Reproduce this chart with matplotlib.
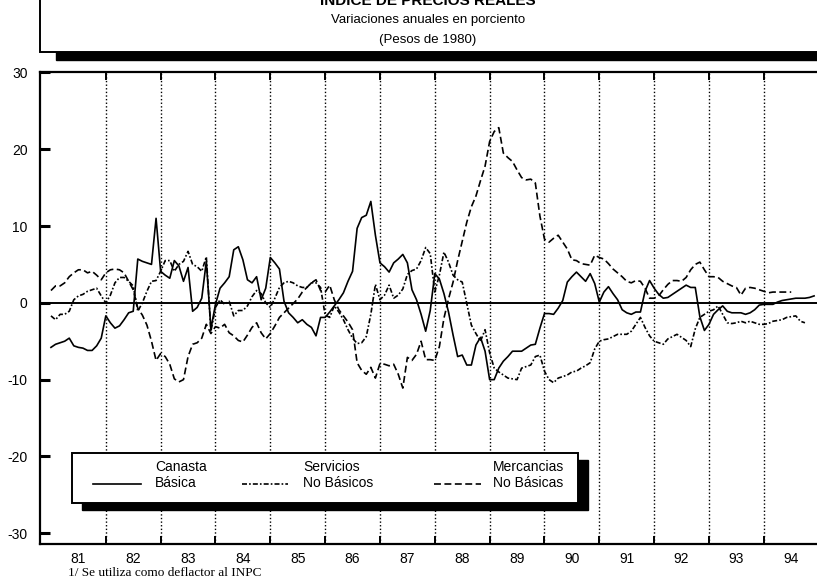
import numpy as np
import matplotlib.pyplot as plt
from matplotlib.patches import Rectangle
from matplotlib.lines import Line2D

plt.rcParams['font.family'] = ['Liberation Sans', 'DejaVu Sans']
plt.rcParams['lines.scale_dashes'] = False

# ─── DATA (monthly, Jan 1981 onwards, % annual change) ─────
canasta = [
    -5.8, -5.4, -5.2, -5.0, -4.6, -5.6, -5.8, -5.9, -6.2, -6.2, -5.6, -4.6,
    -1.7, -2.6, -3.3, -3.0, -2.2, -1.3, -1.1, 5.7, 5.4, 5.2, 5.0, 11.0,
    4.1, 3.6, 3.2, 5.5, 4.8, 2.8, 4.6, -1.1, -0.6, 0.6, 5.4, -3.4,
    -0.2, 1.9, 2.6, 3.4, 6.9, 7.3, 5.6, 3.0, 2.6, 3.4, 0.4, 1.9,
    5.9, 5.2, 4.4, 0.2, -1.3, -1.9, -2.6, -2.2, -2.8, -3.2, -4.3, -1.9,
    -1.9, -1.2, -0.4, 0.4, 1.3, 2.8, 4.1, 9.7, 11.1, 11.4, 13.2, 8.8,
    5.2, 4.7, 4.0, 5.2, 5.7, 6.3, 5.2, 1.7, 0.4, -1.5, -3.7, -1.0,
    3.8, 3.1, 1.2, -1.2, -4.2, -7.0, -6.8, -8.1, -8.1, -5.5, -4.5, -6.3,
    -10.0, -10.0, -8.5, -7.6, -7.0, -6.3, -6.3, -6.3, -5.9, -5.5, -5.4, -3.3,
    -1.4, -1.4, -1.5, -0.7, 0.3, 2.7, 3.4, 4.0, 3.4, 2.8, 3.8, 2.5,
    0.1, 1.4, 2.1, 1.2, 0.4, -0.9, -1.3, -1.5, -1.2, -1.2, 1.5, 2.9,
    1.9, 1.1, 0.6, 0.7, 1.1, 1.5, 1.9, 2.3, 2.0, 2.0, -1.8, -3.6,
    -2.8, -1.5, -0.9, -0.4, -1.1, -1.3, -1.3, -1.3, -1.5, -1.3, -0.9, -0.3,
    -0.2, -0.2, -0.2, 0.1, 0.3, 0.4, 0.5, 0.6, 0.6, 0.6, 0.7, 0.9,
]

servicios = [
    -1.7, -2.2, -1.5, -1.5, -1.1, 0.4, 0.9, 1.1, 1.5, 1.7, 1.9, 0.9,
    0.0, 1.0, 2.6, 3.3, 3.3, 2.8, 2.2, -1.1, 0.0, 1.5, 2.8, 2.9,
    4.1, 5.5, 5.5, 4.1, 5.0, 5.4, 6.7, 5.0, 4.7, 4.1, 6.0, -3.7,
    -0.6, 0.4, -0.2, 0.2, -1.7, -1.0, -1.0, -0.4, 0.8, 1.6, 1.2, 0.0,
    -0.6, 0.6, 2.0, 2.6, 2.8, 2.6, 2.2, 2.0, 2.0, 2.6, 2.6, 2.0,
    -1.6, -1.9, -0.4, -1.2, -2.2, -3.5, -4.6, -5.3, -5.2, -4.4, -1.5, 2.4,
    0.4, 1.0, 2.3, 0.6, 1.0, 1.8, 3.7, 4.2, 4.4, 5.5, 7.2, 6.4,
    1.4, 3.6, 6.6, 5.3, 3.6, 3.0, 2.7, -0.1, -2.9, -4.0, -5.0, -3.5,
    -6.5, -8.5, -9.0, -9.4, -9.8, -9.9, -10.0, -8.5, -8.3, -8.1, -7.0, -6.8,
    -8.9, -10.0, -10.4, -9.8, -9.6, -9.4, -9.0, -8.9, -8.5, -8.2, -7.8, -6.0,
    -5.0, -4.8, -4.7, -4.4, -4.1, -4.1, -4.1, -3.7, -2.8, -1.9, -3.2, -4.3,
    -5.0, -5.2, -5.4, -4.7, -4.4, -4.1, -4.5, -4.9, -5.7, -3.4, -1.9, -1.5,
    -1.1, -0.9, -0.4, -1.5, -2.6, -2.7, -2.6, -2.4, -2.6, -2.4, -2.6, -2.8,
    -2.8, -2.7, -2.4, -2.3, -2.2, -1.9, -1.8, -1.7, -2.4, -2.6,
]

mercancias = [
    1.6, 2.2, 2.2, 2.6, 3.4, 3.9, 4.3, 4.3, 3.9, 4.1, 3.6, 3.0,
    3.9, 4.3, 4.4, 4.3, 3.9, 2.8, 1.7, -0.7, -1.6, -2.9, -5.0, -7.5,
    -6.6, -7.0, -8.0, -9.9, -10.3, -10.0, -7.0, -5.4, -5.2, -4.6, -2.8, -4.0,
    -3.1, -3.3, -2.8, -3.9, -4.3, -4.9, -5.1, -4.2, -3.2, -2.6, -3.9, -4.7,
    -4.0, -3.0, -1.9, -1.3, -0.7, -0.1, 0.5, 1.4, 2.0, 2.6, 3.0, 1.6,
    1.4, 2.3, 0.4, -0.9, -1.7, -2.5, -3.5, -7.8, -8.8, -9.3, -8.4, -9.8,
    -7.9, -8.0, -8.2, -8.0, -9.3, -11.1, -7.1, -7.5, -6.7, -5.0, -7.4, -7.4,
    -7.5, -5.7, -2.0, 0.5, 2.7, 5.5, 8.0, 10.5, 12.5, 13.9, 15.9, 17.8,
    21.0, 22.3, 22.8, 19.5, 18.9, 18.4, 17.3, 16.3, 16.0, 16.1, 15.6, 11.3,
    8.3, 7.9, 8.4, 8.8, 7.9, 7.0, 5.6, 5.5, 5.1, 5.0, 4.9, 6.2,
    5.9, 5.7, 5.1, 4.4, 3.9, 3.4, 2.8, 2.6, 2.9, 2.8, 1.9, 0.6,
    0.6, 0.9, 1.7, 2.4, 2.9, 2.9, 2.8, 3.3, 4.3, 5.0, 5.3, 4.3,
    3.4, 3.4, 3.3, 2.8, 2.5, 2.2, 2.0, 1.0, 1.9, 2.0, 1.9, 1.7,
    1.5, 1.3, 1.4, 1.4, 1.4, 1.4, 1.4,
]

years = list(range(1981, 1995))
year_labels = [str(y)[2:] for y in years]
yticks = [-30, -20, -10, 0, 10, 20, 30]

titulo = "INDICE DE PRECIOS REALES"
subtitulo = "Variaciones anuales en porciento"
subtitulo2 = "(Pesos de 1980)"
nota = "1/ Se utiliza como deflactor al INPC"

series = [
    (canasta, "-", "Canasta\nBásica"),
    (servicios, (0, (3.6, 1.5, 1.2, 1.5)), "Servicios\nNo Básicos"),
    (mercancias, (0, (5, 2.5)), "Mercancias\nNo Básicas"),
]

# ─── FIGURE (pixel helpers) ─────────────────────────────────
W, H = 817, 577


def fx(x):
    return x / W


def fy(y):
    return 1 - y / H


fig = plt.figure(figsize=(W / 100, H / 100), dpi=100)
ax = fig.add_axes([fx(40), fy(544), fx(817) - fx(40), fy(72) - fy(544)])

for vals, ls, _ in series:
    t = 1981 + np.arange(len(vals)) / 12
    ax.plot(t, vals, color="black", linestyle=ls, linewidth=1.2, zorder=3)

ax.axhline(0, color="black", linewidth=1.4, zorder=2)
for y in years[1:]:
    ax.axvline(y, color="black", linestyle=(0, (1, 1.6)), linewidth=1.0, zorder=1)

ax.set_xlim(1980.8, 1994.97)
ax.set_ylim(-31.4, 30.05)

ax.set_xticks(years[1:])
ax.set_xticks([y + 0.5 for y in years], minor=True)
ax.set_xticklabels(year_labels, minor=True)
ax.tick_params(axis="x", which="major", direction="in", length=6, width=1.4,
               top=True, bottom=True, labelbottom=False)
ax.tick_params(axis="x", which="minor", length=0, labelsize=10, pad=6)

ax.set_yticks(yticks)
ax.set_yticklabels([str(v) for v in yticks])
ax.tick_params(axis="y", direction="in", length=7, width=2.2, labelsize=10, pad=9)

ax.spines["right"].set_visible(False)
for s in ["left", "bottom", "top"]:
    ax.spines[s].set_linewidth(1.6)

# ─── TITLE BOX ──────────────────────────────────────────────
fig.add_artist(Rectangle((fx(56), fy(60)), 1, 0.2, transform=fig.transFigure,
                         facecolor="black", edgecolor="black", zorder=4))
fig.add_artist(Rectangle((fx(40), fy(52)), 1, 0.2, transform=fig.transFigure,
                         facecolor="white", edgecolor="black", linewidth=1.4, zorder=5))
fig.text(fx(428), fy(5), titulo, ha="center", va="baseline", fontsize=11,
         fontweight="bold", zorder=6)
fig.text(fx(428), fy(20), subtitulo, ha="center", va="center", fontsize=9.5, zorder=6)
fig.text(fx(428), fy(40), subtitulo2, ha="center", va="center", fontsize=9.5, zorder=6)

# ─── LEGEND BOX ─────────────────────────────────────────────
bw, bh = fx(578) - fx(72), fy(453) - fy(503)
fig.add_artist(Rectangle((fx(82), fy(510)), bw, bh, transform=fig.transFigure,
                         facecolor="black", edgecolor="black", zorder=4))
fig.add_artist(Rectangle((fx(72), fy(503)), bw, bh, transform=fig.transFigure,
                         facecolor="white", edgecolor="black", linewidth=1.4, zorder=5))

line_x = [(93, 141), (242, 288), (434, 481)]
text_x = [155, 303, 493]
for (vals, ls, lab), (x0, x1), tx in zip(series, line_x, text_x):
    fig.add_artist(Line2D([fx(x0), fx(x1)], [fy(484), fy(484)], transform=fig.transFigure,
                          color="black", linestyle=ls, linewidth=1.2, zorder=6))
    fig.text(fx(tx), fy(475), lab, ha="left", va="center", fontsize=10,
             linespacing=1.25, zorder=6)

# ─── FOOTNOTE ───────────────────────────────────────────────
fig.text(fx(68), fy(567), nota, ha="left", va="top", fontsize=9.5,
         family=["Liberation Serif", "DejaVu Serif"])

fig.savefig("out.png", dpi=100)
